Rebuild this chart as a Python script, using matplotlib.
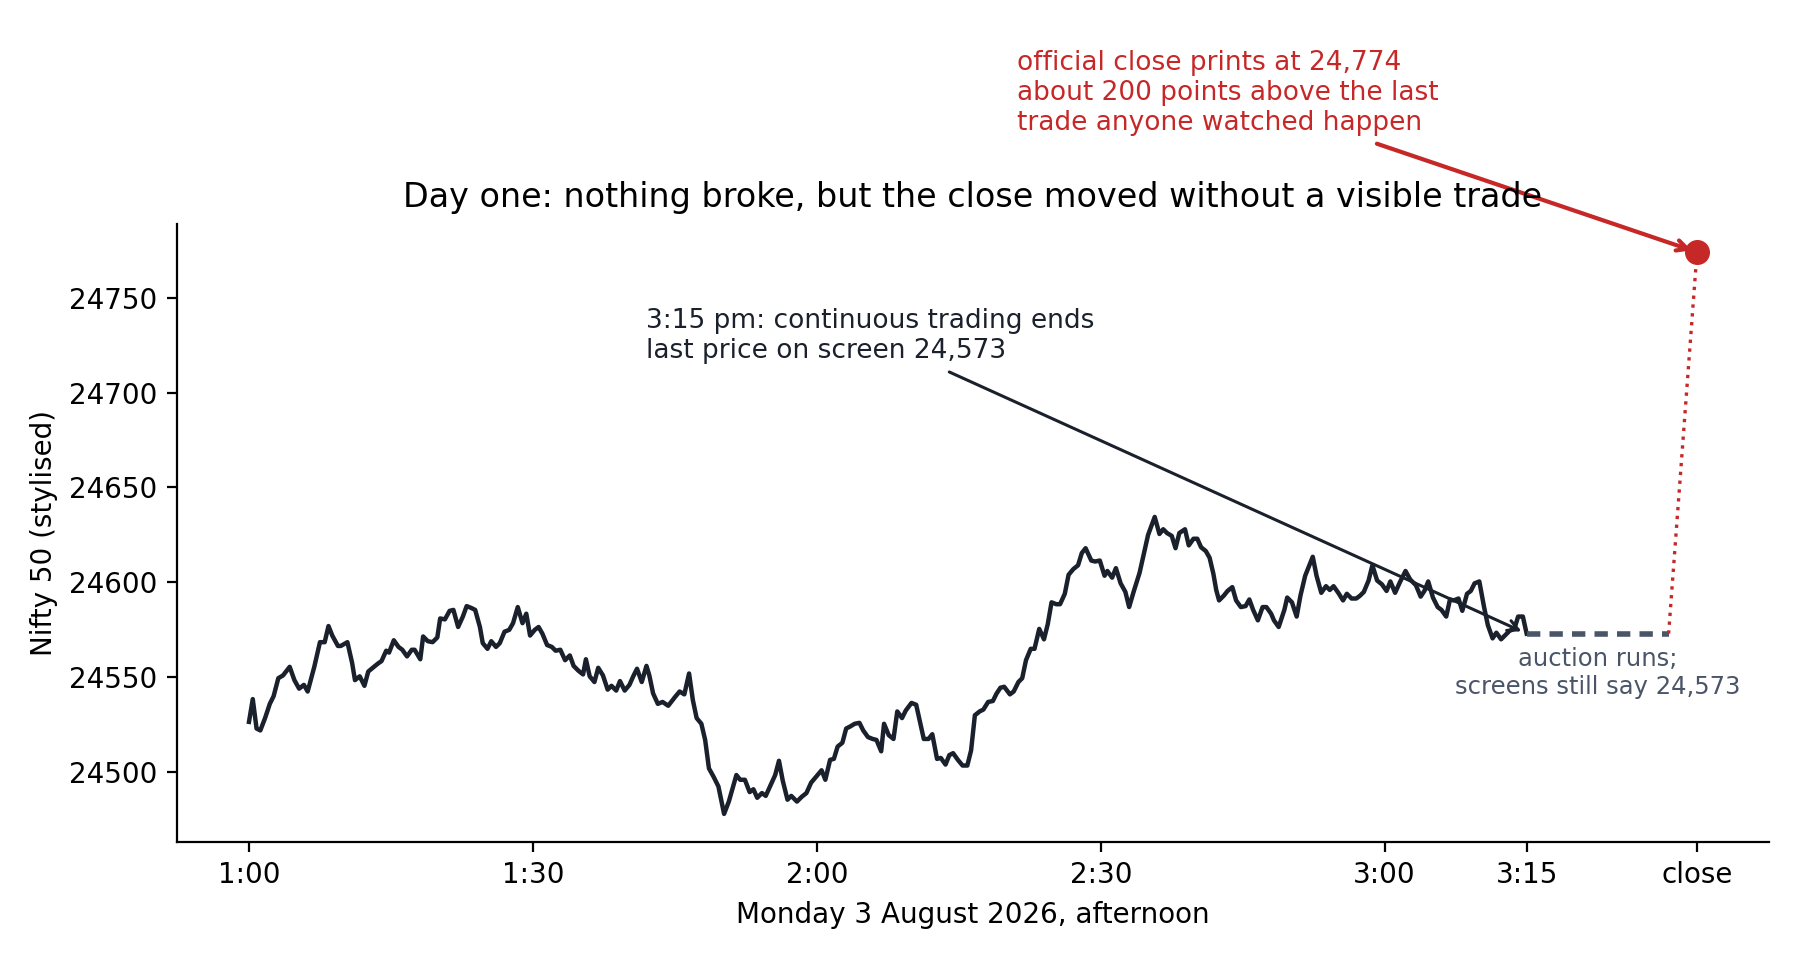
import matplotlib
matplotlib.use("Agg")
import matplotlib.pyplot as plt

# =====================================================
# DATA
# =====================================================

# minutes after 1:00 pm
minutes = [
    0.0, 0.4, 0.8, 1.2, 1.7, 2.2, 2.6, 3.1, 3.6, 4.3, 4.8, 5.3, 5.8, 6.2, 6.9,
    7.5, 8.0, 8.4, 8.8, 9.4, 9.7, 10.4, 10.9, 11.2, 11.7, 12.2, 12.6, 13.2,
    13.7, 14.0, 14.5, 14.8, 15.3, 15.8, 16.2, 16.7, 17.2, 17.5, 18.1, 18.4,
    18.9, 19.4, 19.9, 20.2, 20.7, 21.2, 21.6, 22.1, 22.6, 23.0, 23.5, 23.9,
    24.4, 24.7, 25.2, 25.6, 26.1, 26.5, 27.0, 27.5, 27.9, 28.4, 28.9, 29.3,
    29.7, 30.2, 30.6, 31.0, 31.5, 32.0, 32.4, 32.9, 33.4, 33.9, 34.3, 34.8,
    35.3, 35.6, 36.0, 36.5, 36.9, 37.4, 37.9, 38.3, 38.8, 39.2, 39.7, 40.2,
    40.6, 41.0, 41.5, 42.0, 42.3, 42.7, 43.2, 43.7, 44.3, 45.0, 45.5, 46.0,
    46.5, 46.9, 47.3, 47.8, 48.2, 48.6, 49.1, 49.6, 50.2, 50.7, 51.5, 51.9,
    52.4, 52.9, 53.3, 53.7, 54.2, 54.6, 55.1, 55.6, 56.0, 56.4, 56.9, 57.3,
    57.9, 58.4, 58.9, 59.4, 60.0, 60.5, 60.9, 61.4, 61.8, 62.2, 62.7, 63.1,
    63.5, 64.0, 64.5, 64.9, 65.4, 65.9, 66.3, 66.8, 67.1, 67.6, 68.1, 68.5,
    69.0, 69.4, 70.0, 70.5, 70.9, 71.3, 71.8, 72.2, 72.7, 73.1, 73.6, 74.0,
    74.4, 74.9, 75.4, 75.9, 76.3, 76.7, 77.2, 77.6, 78.1, 78.6, 79.0, 79.4,
    79.8, 80.4, 80.8, 81.3, 81.7, 82.1, 82.6, 83.0, 83.5, 84.0, 84.4, 84.8,
    85.3, 85.7, 86.2, 86.6, 87.1, 87.6, 88.0, 88.4, 89.0, 89.4, 89.9, 90.4,
    90.7, 91.2, 91.6, 92.1, 92.6, 93.0, 93.5, 94.1, 94.6, 95.0, 95.7, 96.2,
    96.6, 97.0, 97.5, 97.9, 98.3, 98.9, 99.3, 99.8, 100.2, 100.6, 101.1,
    101.5, 101.9, 102.2, 102.5, 103.0, 103.4, 103.9, 104.3, 104.8, 105.3,
    105.7, 106.1, 106.6, 107.1, 107.5, 108.0, 108.3, 108.8, 109.4, 109.7,
    110.2, 110.7, 111.1, 111.6, 112.4, 112.8, 113.3, 113.8, 114.2, 114.6,
    115.1, 115.6, 116.0, 116.5, 117.0, 117.4, 117.8, 118.3, 118.7, 119.2,
    119.7, 120.2, 120.6, 121.1, 121.6, 122.2, 122.7, 123.3, 123.8, 124.2,
    124.6, 125.1, 125.6, 126.0, 126.5, 126.9, 127.3, 127.8, 128.2, 128.7,
    129.1, 129.5, 130.0, 130.5, 130.9, 131.4, 131.8, 132.3, 132.7, 133.2,
    133.7, 134.1, 134.6, 135.0,
]

nifty = [
    24526.5, 24538.5, 24523, 24522, 24528.5, 24536, 24540, 24549.5, 24551,
    24555.5, 24548.5, 24544, 24546, 24542.5, 24555.5, 24568.5, 24568.5, 24577,
    24572, 24566.5, 24566.5, 24568.5, 24557.5, 24548.5, 24550.5, 24545.5,
    24553, 24555.5, 24557.5, 24558.5, 24564, 24563, 24569.5, 24566, 24564.5,
    24561, 24564.5, 24564.5, 24559.5, 24571.5, 24569, 24568.5, 24571, 24581,
    24580.5, 24585, 24585.5, 24576.5, 24582, 24587.5, 24586.5, 24585.5,
    24576.5, 24568, 24565, 24569, 24566, 24568, 24574, 24575, 24578.5, 24587,
    24578.5, 24583.5, 24572, 24575, 24576.5, 24573, 24567, 24566, 24564,
    24564.5, 24559, 24561.5, 24556, 24553.5, 24551.5, 24559.5, 24550.5,
    24547.5, 24555, 24551, 24543.5, 24545.5, 24543, 24548, 24543, 24546,
    24550.5, 24554.5, 24547.5, 24556, 24551, 24541.5, 24536, 24537, 24535,
    24539.5, 24542.5, 24541, 24552, 24538, 24528.5, 24525.5, 24517, 24502,
    24497.5, 24492.5, 24478, 24484.5, 24498.5, 24496, 24496, 24489.5, 24491,
    24486.5, 24489, 24487.5, 24493, 24498.5, 24506, 24495.5, 24485.5, 24487.5,
    24484.5, 24487, 24489, 24494.5, 24498, 24501, 24496, 24506.5, 24507,
    24513.5, 24515.5, 24523, 24524, 24525.5, 24526, 24522, 24518.5, 24517.5,
    24517, 24511, 24525.5, 24519.5, 24517.5, 24532, 24528.5, 24532.5, 24536.5,
    24535.5, 24526.5, 24517.5, 24517.5, 24520, 24507, 24507.5, 24504, 24509,
    24510, 24506.5, 24503.5, 24503.5, 24511.5, 24530, 24532, 24533, 24537,
    24537.5, 24541.5, 24544.5, 24545, 24541, 24542.5, 24547.5, 24549.5,
    24559, 24565, 24565, 24575.5, 24570, 24578, 24589.5, 24588.5, 24588.5,
    24594, 24604, 24607, 24609, 24615.5, 24618, 24611.5, 24611, 24611.5,
    24603.5, 24606, 24602.5, 24607.5, 24599.5, 24595, 24587, 24595.5, 24605,
    24616, 24625, 24634.5, 24625.5, 24628, 24626, 24624.5, 24618, 24626,
    24628, 24619.5, 24623, 24623, 24618.5, 24616.5, 24613, 24604.5, 24596,
    24590.5, 24593, 24595.5, 24597.5, 24590.5, 24587, 24587.5, 24591,
    24585.5, 24580, 24587, 24587, 24583.5, 24580, 24576.5, 24585.5, 24592,
    24589.5, 24582, 24593, 24603.5, 24613.5, 24603.5, 24594.5, 24598, 24596,
    24598, 24594.5, 24590.5, 24594, 24591.5, 24591.5, 24593, 24595, 24601,
    24609, 24601, 24599, 24595.5, 24600.5, 24594.5, 24600, 24606, 24601.5,
    24598.5, 24592.5, 24595.5, 24600.5, 24592, 24587, 24585.5, 24582, 24591,
    24590.5, 24591.5, 24585, 24594, 24595.5, 24599.5, 24600.5, 24587, 24577.5,
    24570.5, 24573.5, 24570, 24572, 24574.5, 24575.5, 24582, 24582, 24573,
]

last_trade_min = 135
auction_end_min = 150
close_min = 153
last_price = 24573
close_price = 24774

tick_pos = [0, 30, 60, 90, 120, 135, 153]
tick_labels = ["1:00", "1:30", "2:00", "2:30", "3:00", "3:15", "close"]

INK = "#1a202c"
SLATE = "#4a5568"
RED = "#c62828"

# =====================================================
# PLOT
# =====================================================

fig = plt.figure(figsize=(9, 4.8), dpi=200)
ax = fig.add_axes([0.0981, 0.1229, 0.8849, 0.6437])

ax.plot(minutes, nifty, color=INK, linewidth=1.6)

# auction: screens frozen on the last trade
ax.plot(
    [last_trade_min, auction_end_min],
    [last_price, last_price],
    color=SLATE,
    linewidth=2.0,
    linestyle=(0, (2.4, 1.65))
)

# jump to the official close
ax.plot(
    [auction_end_min, close_min],
    [last_price, close_price],
    color=RED,
    linewidth=1.2,
    linestyle=":"
)

ax.plot(close_min, close_price, "o", color=RED, markersize=8)

ax.annotate(
    "3:15 pm: continuous trading ends\nlast price on screen 24,573",
    xy=(last_trade_min, last_price),
    xytext=(41.95, 24715),
    ha="left",
    va="bottom",
    fontsize=9.5,
    color=INK,
    arrowprops=dict(arrowstyle="->", color=INK, lw=1.1)
)

ax.annotate(
    "official close prints at 24,774\n"
    "about 200 points above the last\n"
    "trade anyone watched happen",
    xy=(close_min, close_price),
    xytext=(81.2, 24835),
    ha="left",
    va="bottom",
    fontsize=9.5,
    color=RED,
    arrowprops=dict(arrowstyle="->", color=RED, lw=1.5)
)

ax.text(
    142.5, 24566,
    "auction runs;\nscreens still say 24,573",
    ha="center",
    va="top",
    fontsize=8.75,
    color=SLATE
)

ax.set_xticks(tick_pos)
ax.set_xticklabels(tick_labels)
ax.tick_params(labelsize=10)

ax.spines["top"].set_visible(False)
ax.spines["right"].set_visible(False)

ax.set_xlabel("Monday 3 August 2026, afternoon", fontsize=10)
ax.set_ylabel("Nifty 50 (stylised)", fontsize=10)
ax.set_title(
    "Day one: nothing broke, but the close moved without a visible trade",
    fontsize=12
)

fig.savefig("out.png", dpi=200)
